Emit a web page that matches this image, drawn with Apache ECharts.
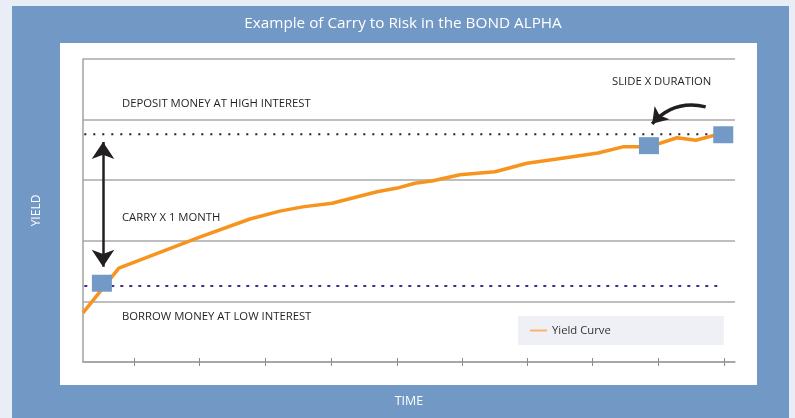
<!DOCTYPE html>
<html>
<head>
<meta charset="utf-8">
<script src="https://cdn.jsdelivr.net/npm/echarts@6/dist/echarts.min.js"></script>
<style>
  html, body { margin: 0; padding: 0; background: #e9eef6; }
  #chart { width: 795px; height: 418px; }
</style>
</head>
<body>
<div id="chart"></div>
<script>
// time runs 0..100 across the plot, yield 0..5 (one unit per grid band)
var curveTime  = [0, 5.5, 17.9, 25.6, 30.2, 33.7, 38.2, 45.1, 48.2, 50.9, 53.7, 57.8, 63.2, 68.1, 72.7, 79.0, 82.8, 86.8, 91.1, 94.0, 98.2];
var curveYield = [0.81, 1.55, 2.06, 2.36, 2.49, 2.56, 2.62, 2.81, 2.87, 2.95, 2.99, 3.09, 3.14, 3.28, 3.35, 3.45, 3.55, 3.55, 3.70, 3.66, 3.78];

// the three positions marked with squares
var markTime  = [2.9, 86.8, 98.2];
var markYield = [1.30, 3.57, 3.75];

// deposit / borrow rate levels
var depositRate = 3.76;
var borrowRate = 1.254;
var rateSpan = [0.2, 97.5];

var timeTicks = [7.8, 17.9, 28.0, 38.1, 48.2, 58.1, 68.2, 78.1, 88.2, 98.3];

// carry arrow (both ends) and slide arrow (tail -> head)
var carryArrow = [[3.07, 3.63], [3.07, 1.57]];
var slideArrow = [[95.5, 4.21], [87.3, 3.93]];

var chart = echarts.init(document.getElementById('chart'));

var txtFont = 'Open Sans';
var dark = '#231f20';
var noteFont = '11.3px "Open Sans"';

function zip(a, b) { return a.map(function (v, i) { return [v, b[i]]; }); }

var option = {
  animation: false,
  backgroundColor: '#e9eef6',
  graphic: [
    { type: 'rect', shape: { x: 12, y: 6, width: 777, height: 420 }, style: { fill: '#7298c5' }, z: -10 },
    { type: 'rect', shape: { x: 60, y: 43, width: 697, height: 342 }, style: { fill: '#ffffff' }, z: -9 },
    { type: 'text', x: 403, y: 24, style: { text: 'Example of Carry to Risk in the BOND ALPHA', fill: '#fff', font: '15.3px "Open Sans"', align: 'center', verticalAlign: 'middle' } },
    { type: 'text', x: 122, y: 104, style: { text: 'DEPOSIT MONEY AT HIGH INTEREST', fill: dark, font: noteFont, verticalAlign: 'middle' } },
    { type: 'text', x: 612, y: 82, style: { text: 'SLIDE X DURATION', fill: dark, font: noteFont, verticalAlign: 'middle' } },
    { type: 'text', x: 122, y: 218, style: { text: 'CARRY X 1 MONTH', fill: dark, font: noteFont, verticalAlign: 'middle' } },
    { type: 'text', x: 122, y: 317, style: { text: 'BORROW MONEY AT LOW INTEREST', fill: dark, font: noteFont, verticalAlign: 'middle' } }
  ],
  legend: {
    data: [{ name: 'Yield Curve', itemStyle: { color: '#fbb36a' }, lineStyle: { color: '#fbb36a', width: 2 } }],
    left: 518,
    top: 316,
    backgroundColor: '#eff0f5',
    padding: [9, 113, 9, 12],
    itemWidth: 17,
    itemHeight: 2,
    icon: 'rect',
    itemGap: 5,
    textStyle: { color: '#333', fontSize: 11.3, fontFamily: txtFont }
  },
  grid: { left: 83, right: 60, top: 59, bottom: 56 },
  xAxis: [
    {
      type: 'value', min: 0, max: 100,
      name: 'TIME', nameLocation: 'middle', nameGap: 33,
      nameTextStyle: { color: '#fff', fontSize: 12.5, fontFamily: txtFont },
      axisLine: { show: true, lineStyle: { color: '#a0a0a0', width: 1.5 } },
      axisTick: { show: true, length: 4, customValues: timeTicks, lineStyle: { color: '#8a8a8a', width: 1 } },
      axisLabel: { show: false },
      splitLine: { show: false }
    },
    {
      type: 'value', min: 0, max: 100, position: 'bottom',
      axisLine: { show: false },
      axisTick: { show: true, inside: true, length: 4, customValues: timeTicks, lineStyle: { color: '#8a8a8a', width: 1 } },
      axisLabel: { show: false },
      splitLine: { show: false }
    }
  ],
  yAxis: {
    type: 'value', min: 0, max: 5, interval: 1,
    name: 'YIELD', nameLocation: 'middle', nameGap: 40, nameRotate: 90,
    nameTextStyle: { color: '#fff', fontSize: 12, fontFamily: txtFont },
    axisLine: { show: true, lineStyle: { color: '#a0a0a0', width: 1.5 } },
    axisTick: { show: false },
    axisLabel: { show: false },
    splitLine: { show: true, lineStyle: { color: '#a8a8a8', width: 1.5 } }
  },
  series: [
    {
      name: 'deposit', type: 'line', silent: true, symbol: 'none',
      data: [[rateSpan[0], depositRate], [rateSpan[1] + 1.5, depositRate]],
      lineStyle: { color: dark, width: 2, type: [2, 7] }, z: 1
    },
    {
      name: 'borrow', type: 'line', silent: true, symbol: 'none',
      data: [[rateSpan[0], borrowRate], [rateSpan[1], borrowRate]],
      lineStyle: { color: '#34348a', width: 2, type: [3, 6] }, z: 1
    },
    {
      name: 'Yield Curve', type: 'line', symbol: 'none',
      data: zip(curveTime, curveYield),
      lineStyle: { color: '#f7941d', width: 3.5 },
      itemStyle: { color: '#f7941d' }, z: 2
    },
    {
      name: 'marks', type: 'scatter', symbol: 'rect', symbolSize: [20, 17],
      data: zip(markTime, markYield),
      itemStyle: { color: '#7399c6', opacity: 1 }, z: 3
    },
    // double-headed "carry" arrow
    {
      name: 'carry', type: 'lines', coordinateSystem: 'cartesian2d', silent: true,
      symbol: ['arrow', 'arrow'], symbolSize: 17,
      lineStyle: { color: dark, width: 2.5, opacity: 1 },
      data: [{ coords: carryArrow }], z: 4
    },
    // curved "slide" arrow
    {
      name: 'slide', type: 'lines', coordinateSystem: 'cartesian2d', silent: true,
      symbol: ['none', 'arrow'], symbolSize: 15,
      lineStyle: { color: dark, width: 3.5, opacity: 1, curveness: -0.3 },
      data: [{ coords: slideArrow }], z: 4
    }
  ]
};

chart.setOption(option);
</script>
</body>
</html>
